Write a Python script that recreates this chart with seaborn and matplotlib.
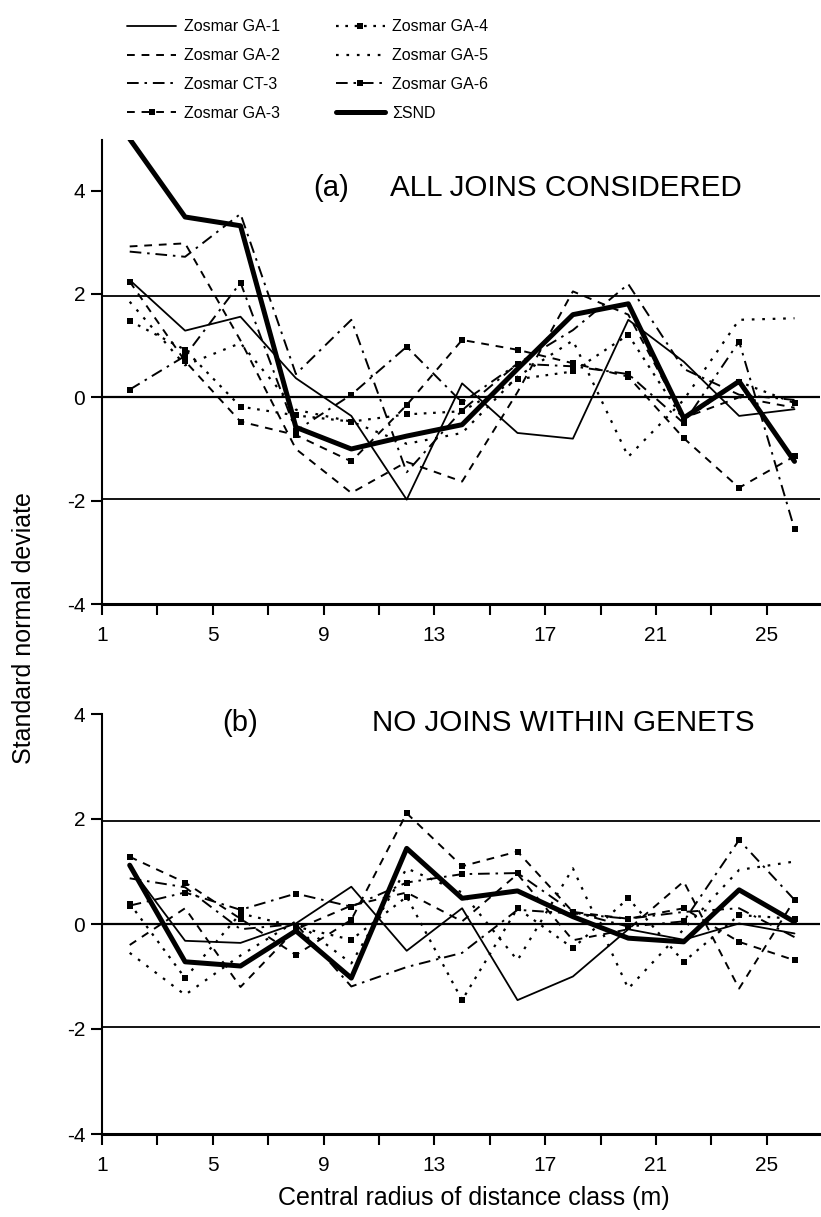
import matplotlib
matplotlib.use("Agg")
import matplotlib.pyplot as plt
from matplotlib.lines import Line2D
from matplotlib import font_manager
import seaborn as sns
import numpy as np
import pandas as pd

# ---------------- data ----------------
distance_class = [2, 4, 6, 8, 10, 12, 14, 16, 18, 20, 22, 24, 26]
series_names = ["Zosmar GA-1", "Zosmar GA-2", "Zosmar CT-3", "Zosmar GA-3",
                "Zosmar GA-4", "Zosmar GA-5", "Zosmar GA-6", "\u03a3SND"]

# (a) all joins considered
a_ga1 = [2.27, 1.29, 1.56, 0.37, -0.36, -1.98, 0.27, -0.69, -0.80, 1.50, 0.69, -0.36, -0.23]
a_ga2 = [2.92, 2.98, 1.10, -1.00, -1.85, -1.25, -1.63, 0.10, 2.05, 1.60, -0.40, 0.00, -0.20]
a_ct3 = [2.82, 2.72, 3.55, 0.45, 1.50, -1.45, -0.25, 0.65, 1.30, 2.19, 0.55, 0.05, -0.05]
a_ga3 = [2.24, 0.70, -0.47, -0.73, -1.24, -0.15, 1.11, 0.92, 0.66, 0.40, -0.79, -1.75, -1.14]
a_ga4 = [1.48, 0.92, -0.18, -0.35, -0.47, -0.33, -0.27, 0.35, 0.50, 1.21, -0.44, 0.30, -0.11]
a_ga5 = [1.85, 0.62, 1.05, -0.24, -0.47, -0.90, -0.69, 0.40, 1.10, -1.15, -0.05, 1.50, 1.53]
a_ga6 = [0.15, 0.80, 2.22, -0.65, 0.05, 0.98, -0.10, 0.65, 0.60, 0.45, -0.50, 1.08, -2.55]
a_snd = [5.00, 3.49, 3.32, -0.58, -1.00, -0.75, -0.53, 0.55, 1.60, 1.81, -0.40, 0.31, -1.24]

# (b) no joins within genets
b_ga1 = [1.09, -0.32, -0.36, 0.01, 0.71, -0.51, 0.30, -1.45, -1.00, -0.10, -0.30, 0.01, -0.18]
b_ga2 = [-0.40, 0.30, -1.20, -0.10, 0.35, 0.60, 0.05, 0.95, -0.31, -0.10, 0.81, -1.23, 0.46]
b_ct3 = [0.87, 0.70, -0.10, 0.00, -1.19, -0.82, -0.55, 0.27, 0.20, 0.10, 0.23, 0.30, -0.25]
b_ga3 = [1.28, 0.79, 0.10, -0.59, 0.08, 2.11, 1.10, 1.38, 0.23, 0.10, 0.30, -0.34, -0.69]
b_ga4 = [0.39, -1.03, 0.20, -0.05, -0.30, 0.52, -1.45, 0.30, -0.46, 0.49, -0.72, 0.17, 0.10]
b_ga5 = [-0.55, -1.35, -0.60, 0.05, -0.75, 1.06, 0.60, -0.69, 1.06, -1.23, -0.10, 1.03, 1.19]
b_ga6 = [0.35, 0.60, 0.27, 0.58, 0.33, 0.79, 0.95, 0.97, 0.23, -0.05, 0.05, 1.60, 0.46]
b_snd = [1.12, -0.72, -0.80, -0.13, -1.03, 1.44, 0.49, 0.63, 0.14, -0.27, -0.34, 0.65, 0.04]

panel_a = [a_ga1, a_ga2, a_ct3, a_ga3, a_ga4, a_ga5, a_ga6, a_snd]
panel_b = [b_ga1, b_ga2, b_ct3, b_ga3, b_ga4, b_ga5, b_ga6, b_snd]

x_ticks = list(range(1, 27, 2))
x_ticklabels = ["1", "", "5", "", "9", "", "13", "", "17", "", "21", "", "25"]
y_ticks = [-4, -2, 0, 2, 4]
y_ticklabels = ["-4", "-2", "0", "2", "4"]

# ---------------- styles ----------------
styles = {
    "Zosmar GA-1": dict(linestyle="-", marker=None, lw=1.3),
    "Zosmar GA-2": dict(linestyle=(0, (4, 3.5)), marker=None, lw=1.4),
    "Zosmar CT-3": dict(linestyle=(0, (6, 3, 1.3, 3)), marker=None, lw=1.4),
    "Zosmar GA-3": dict(linestyle=(0, (4, 3.5)), marker="s", lw=1.4),
    "Zosmar GA-4": dict(linestyle=(0, (1.2, 3)), marker="s", lw=1.6),
    "Zosmar GA-5": dict(linestyle=(0, (1.2, 3.5)), marker=None, lw=1.6),
    "Zosmar GA-6": dict(linestyle=(0, (6, 3, 1.3, 3)), marker="s", lw=1.4),
    "\u03a3SND": dict(linestyle="-", marker=None, lw=3.6),
}

sns.set_theme(style="ticks")
avail = {f.name for f in font_manager.fontManager.ttflist}
base_font = "Liberation Sans" if "Liberation Sans" in avail else "DejaVu Sans"
plt.rcParams["font.family"] = [base_font, "DejaVu Sans"]
for k in ["text.color", "axes.labelcolor", "xtick.color", "ytick.color", "axes.edgecolor"]:
    plt.rcParams[k] = "black"

W, H = 821, 1217
fig = plt.figure(figsize=(W / 100, H / 100), dpi=100)
left, right = 102, 820
ax_a = fig.add_axes([left / W, (H - 604) / H, (right - left) / W, (604 - 140) / H])
ax_b = fig.add_axes([left / W, (H - 1134) / H, (right - left) / W, (1134 - 714) / H])

for ax, data, ytop in [(ax_a, panel_a, 4.98), (ax_b, panel_b, 4.0)]:
    for lvl, lw in [(1.96, 1.3), (0.0, 1.6), (-1.96, 1.3)]:
        ax.axhline(lvl, color="black", lw=lw, zorder=1)
    for name, vals in zip(series_names, data):
        st = styles[name]
        df = pd.DataFrame({"x": distance_class, "y": vals})
        sns.lineplot(data=df, x="x", y="y", ax=ax, color="black",
                     linewidth=st["lw"], linestyle=st["linestyle"],
                     marker=st["marker"], markersize=3.8, markeredgewidth=0,
                     estimator=None, legend=False, zorder=3)
    ax.set_xlim(1, 1 + (right - left) / 27.7)
    ax.set_ylim(-4, ytop)
    ax.set_xticks(x_ticks)
    ax.set_xticklabels(x_ticklabels)
    ax.set_yticks(y_ticks)
    ax.set_yticklabels(y_ticklabels)
    ax.set_xlabel("")
    ax.set_ylabel("")
    for s in ["top", "right"]:
        ax.spines[s].set_visible(False)
    ax.spines["left"].set_linewidth(1.5)
    ax.spines["bottom"].set_linewidth(2.2)
    ax.tick_params(axis="both", direction="out", length=8, width=1.5,
                   color="black", labelsize=15, labelcolor="black")
    ax.tick_params(axis="x", pad=8)
    ax.tick_params(axis="y", pad=4)
    ax.set_facecolor("white")

# panel headings
fig.text(331 / W, 1 - 188 / H, "(a)", fontsize=21, ha="center", va="center")
fig.text(390 / W, 1 - 188 / H, "ALL JOINS CONSIDERED", fontsize=21.3, ha="left", va="center")
fig.text(240 / W, 1 - 723 / H, "(b)", fontsize=21, ha="center", va="center")
fig.text(372 / W, 1 - 723 / H, "NO JOINS WITHIN GENETS", fontsize=21.3, ha="left", va="center")

# axis labels
fig.text(24 / W, 1 - 628 / H, "Standard normal deviate", rotation=90,
         fontsize=18, ha="center", va="center")
fig.text(474 / W, 1 - 1198 / H, "Central radius of distance class (m)",
         fontsize=18, ha="center", va="center")

# legend
handles = []
for name in series_names:
    st = styles[name]
    handles.append(Line2D([], [], color="black", lw=st["lw"], linestyle=st["linestyle"],
                          marker=st["marker"], markersize=3.8, markeredgewidth=0))
fig.legend(handles, series_names, loc="upper left", bbox_to_anchor=(113 / W, 1 - 5 / H),
           ncol=2, frameon=False, handlelength=3.07, handletextpad=0.46,
           columnspacing=3.5, labelspacing=0.86,
           prop={"size": 11.5})

fig.savefig("out.png", dpi=100, facecolor="white")
